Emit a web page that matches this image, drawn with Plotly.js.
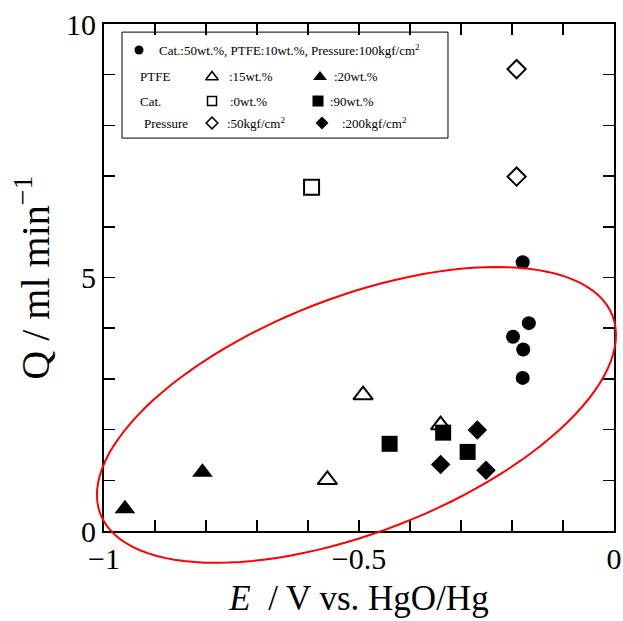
<!DOCTYPE html>
<html>
<head>
<meta charset="utf-8">
<script src="https://cdn.plot.ly/plotly-3.0.1.min.js"></script>
<style>html,body{margin:0;padding:0;background:#fff}#chart{width:623px;height:621px}</style>
</head>
<body>
<div id="chart"></div>
<script>
// ---- data (E / V vs HgO/Hg, Q / ml min^-1) ----
const baseE = [-0.179, -0.167, -0.198, -0.178, -0.179];
const baseQ = [5.30, 4.10, 3.83, 3.58, 3.02];
const ptfe15E = [-0.492, -0.340, -0.562];
const ptfe15Q = [2.68, 2.09, 1.01];
const ptfe20E = [-0.959, -0.807];
const ptfe20Q = [0.44, 1.16];
const cat0E = [-0.593];
const cat0Q = [6.78];
const cat90E = [-0.440, -0.335, -0.287];
const cat90Q = [1.72, 1.94, 1.56];
const p50E = [-0.191, -0.191];
const p50Q = [9.11, 6.99];
const p200E = [-0.268, -0.340, -0.251];
const p200Q = [1.99, 1.31, 1.20];

const xTickVals = [-1, -0.5, 0];
const xTickText = ['\u22121', '\u22120.5', '0'];
const yTickVals = [0, 5, 10];
const yTickText = ['0', '5', '10'];

const legendHeader = 'Cat.:50wt.%, PTFE:10wt.%, Pressure:100kgf/cm<sup>2</sup>';
const rowLabels = ['PTFE', 'Cat.', 'Pressure'];
const openLabels = [':15wt.%', ':0wt.%', ':50kgf/cm<sup>2</sup>'];
const filledLabels = [':20wt.%', ':90wt.%', ':200kgf/cm<sup>2</sup>'];

// ---- layout geometry ----
const W = 623, H = 621;
const M = {l: 104, r: 9, t: 24, b: 90};
const PW = W - M.l - M.r, PH = H - M.t - M.b;
const FONT = 'Liberation Serif, Times New Roman, serif';

// ellipse (center in data units, semi-axes in px, tilt in deg)
const ell = {cx: -0.505, cy: 2.29, a: 274.6, b: 117.6, tilt: 21.2};
function ellipsePath() {
  const th = ell.tilt * Math.PI / 180;
  const cxp = (ell.cx + 1) * PW, cyp = ell.cy / 10 * PH;
  let d = '';
  for (let i = 0; i <= 120; i++) {
    const t = i / 120 * 2 * Math.PI;
    const u = ell.a * Math.cos(t) * Math.cos(th) - ell.b * Math.sin(t) * Math.sin(th);
    const v = ell.a * Math.cos(t) * Math.sin(th) + ell.b * Math.sin(t) * Math.cos(th);
    const px = (cxp + u) / PW, py = (cyp + v) / PH;
    d += (i === 0 ? 'M' : 'L') + px.toFixed(5) + ',' + py.toFixed(5);
  }
  return d + 'Z';
}

const BLK = '#000';
function mk(x, y, symbol, size, open, extra) {
  return Object.assign({
    type: 'scatter', mode: 'markers', x: x, y: y, showlegend: false, hoverinfo: 'skip',
    cliponaxis: false,
    marker: {symbol: symbol, size: size, color: open ? '#fff' : BLK,
             line: {color: BLK, width: open ? 2 : 0}}
  }, extra || {});
}

const traces = [
  mk(baseE, baseQ, 'circle', 14, false),
  mk(ptfe15E, ptfe15Q, 'triangle-up', 17, true),
  mk(ptfe20E, ptfe20Q, 'triangle-up', 18, false),
  mk(cat0E, cat0Q, 'square', 15, true),
  mk(cat90E, cat90Q, 'square', 16, false),
  mk(p50E, p50Q, 'diamond', 14, true),
  mk(p200E, p200Q, 'diamond', 15, false)
];

// legend key positions (fractions of plot area)
const LG = {x0: 0.0353, x1: 0.6745, y0: 0.775, y1: 0.984,
            rows: [0.9487, 0.8955, 0.8481, 0.8047],
            circX: 0.0686, headX: 0.1039, labX: [0.0667, 0.0667, 0.0745],
            openX: 0.2118, openTX: [0.2412, 0.2431, 0.2373],
            fillX: [0.4235, 0.4196, 0.4275], fillTX: [0.447, 0.439, 0.4627]};
const ax2 = {xaxis: 'x2', yaxis: 'y2'};
traces.push(mk([LG.circX], [LG.rows[0]], 'circle', 9, false, ax2));
const openSyms = ['triangle-up', 'square', 'diamond'];
const openSz = [11, 9, 9];
const fillSz = [12, 11, 10];
for (let i = 0; i < 3; i++) {
  const t1 = mk([LG.openX], [LG.rows[i + 1]], openSyms[i], openSz[i], true, ax2);
  t1.marker.line.width = 1.5;
  traces.push(t1);
  traces.push(mk([LG.fillX[i]], [LG.rows[i + 1]], openSyms[i], fillSz[i], false, ax2));
}

const annFont = {family: FONT, size: 13, color: BLK};
const annotations = [];
function ann(x, y, text) {
  annotations.push({xref: 'paper', yref: 'paper', x: x, y: y, text: text, showarrow: false,
                    xanchor: 'left', yanchor: 'middle', font: annFont});
}
ann(LG.headX, LG.rows[0], legendHeader);
for (let i = 0; i < 3; i++) {
  ann(LG.labX[i], LG.rows[i + 1], rowLabels[i]);
  ann(LG.openTX[i], LG.rows[i + 1], openLabels[i]);
  ann(LG.fillTX[i], LG.rows[i + 1], filledLabels[i]);
}

const axCommon = {
  showgrid: false, zeroline: false, showline: true, linewidth: 2, linecolor: BLK,
  mirror: 'allticks', ticks: 'inside', ticklen: 11, tickwidth: 1.5, tickcolor: BLK,
  tickfont: {family: FONT, size: 30, color: BLK}
};

const layout = {
  width: W, height: H, margin: M,
  paper_bgcolor: '#fff', plot_bgcolor: '#fff',
  font: {family: FONT, color: BLK},
  xaxis: Object.assign({}, axCommon, {
    range: [-1, 0], tickmode: 'array', tickvals: xTickVals, ticktext: xTickText,
    minor: {dtick: 0.1, tick0: -1, ticks: 'inside', ticklen: 11, tickwidth: 1.5, tickcolor: BLK, showgrid: false},
    title: {text: '\u00a0\u00a0\u00a0<i>E</i>\u00a0\u00a0/ V vs. HgO/Hg', font: {family: FONT, size: 35, color: BLK}, standoff: 11}
  }),
  yaxis: Object.assign({}, axCommon, {
    range: [0, 10], tickmode: 'array', tickvals: yTickVals, ticktext: yTickText,
    minor: {dtick: 1, tick0: 0, ticks: 'inside', ticklen: 11, tickwidth: 1.5, tickcolor: BLK, showgrid: false},
    title: {text: 'Q\u00a0/\u00a0ml\u00a0min<sup>\u22121</sup>', font: {family: FONT, size: 40, color: BLK}, standoff: 4}
  }),
  xaxis2: {overlaying: 'x', anchor: 'y2', range: [0, 1], visible: false, fixedrange: true},
  yaxis2: {overlaying: 'y', anchor: 'x2', range: [0, 1], visible: false, fixedrange: true},
  shapes: [
    {type: 'rect', xref: 'paper', yref: 'paper', x0: LG.x0, x1: LG.x1, y0: LG.y0, y1: LG.y1,
     line: {color: BLK, width: 1}, fillcolor: 'rgba(0,0,0,0)'},
    {type: 'path', xref: 'paper', yref: 'paper', path: ellipsePath(),
     line: {color: '#ff0000', width: 2}, fillcolor: 'rgba(0,0,0,0)'}
  ],
  annotations: annotations
};

Plotly.newPlot('chart', traces, layout, {staticPlot: true, displayModeBar: false});
</script>
</body>
</html>
